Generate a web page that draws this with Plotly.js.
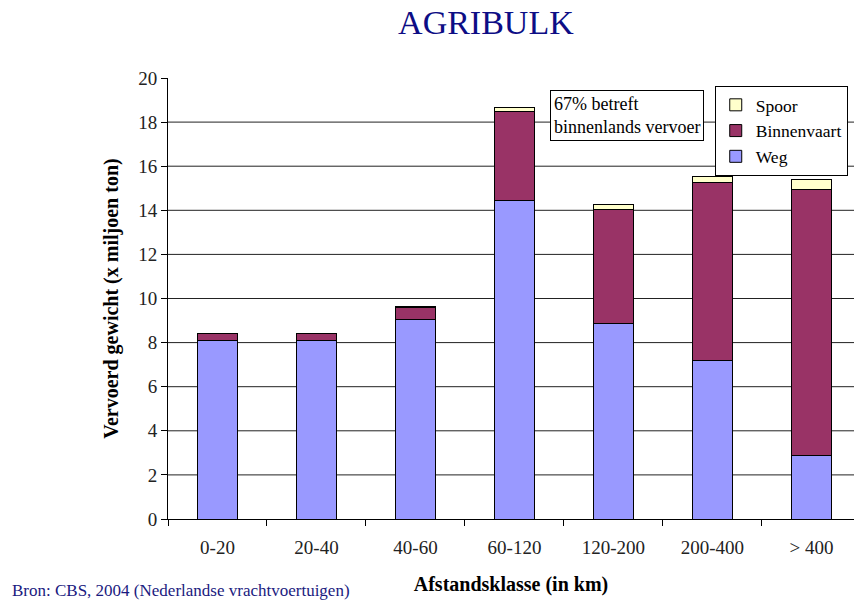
<!DOCTYPE html>
<html>
<head>
<meta charset="utf-8">
<script src="https://cdn.plot.ly/plotly-3.0.1.min.js"></script>
<style>html,body{margin:0;padding:0;background:#fff;}#chart{width:854px;height:601px;}</style>
</head>
<body>
<div id="chart"></div>
<script>
const categories = ["0-20", "20-40", "40-60", "60-120", "120-200", "200-400", "> 400"];
const weg = [8.1, 8.1, 9.05, 14.45, 8.85, 7.2, 2.9];
const binnenvaart = [0.3, 0.3, 0.55, 4.05, 5.2, 8.05, 12.05];
const spoor = [0.02, 0.02, 0.03, 0.15, 0.2, 0.27, 0.45];
const gridValues = [2, 4, 6, 8, 10, 12, 14, 16, 18];

const serif = 'Liberation Serif, Times New Roman, serif';
const line = {color: '#000', width: 1};

const traces = [
  {type: 'bar', name: 'Weg', x: categories, y: weg, width: 0.4, marker: {color: '#9999FF', line: line}},
  {type: 'bar', name: 'Binnenvaart', x: categories, y: binnenvaart, width: 0.4, marker: {color: '#993366', line: line}},
  {type: 'bar', name: 'Spoor', x: categories, y: spoor, width: 0.4, marker: {color: '#FFFFCC', line: line}}
];

const shapes = gridValues.map(v => ({
  type: 'line', xref: 'paper', yref: 'y', x0: 0, x1: 1, y0: v, y1: v,
  line: {color: '#222', width: 1}, layer: 'below'
}));

const layout = {
  width: 854, height: 601,
  margin: {l: 168, r: 0, t: 78, b: 82, autoexpand: false},
  paper_bgcolor: '#fff', plot_bgcolor: '#fff',
  font: {family: serif, color: '#000', size: 17},
  barmode: 'stack',
  showlegend: true,
  title: {text: 'AGRIBULK', font: {family: serif, size: 34, color: '#0d0d85'},
          x: 0.569, xanchor: 'center', xref: 'container', y: 0.963, yanchor: 'middle', yref: 'container'},
  xaxis: {
    type: 'category', range: [-0.5, 6.43],
    showline: true, linecolor: '#000', linewidth: 1,
    ticks: 'outside', tickson: 'boundaries', ticklen: 6, tickcolor: '#000',
    showgrid: false, tickfont: {family: serif, size: 19, color: '#222'},
    ticklabelstandoff: 11,
    title: {text: '<b>Afstandsklasse (in km)</b>', font: {family: serif, size: 20}, standoff: 20}
  },
  yaxis: {
    range: [0, 20], dtick: 2, tick0: 0,
    showline: true, linecolor: '#000', linewidth: 1,
    ticks: 'outside', ticklen: 6, tickcolor: '#000',
    showgrid: false, zeroline: false, tickfont: {family: serif, size: 19, color: '#222'},
    title: {text: '<b>Vervoerd gewicht (x miljoen ton)</b>', font: {family: serif, size: 20}, standoff: 14}
  },
  legend: {
    x: 0.797, y: 0.982, xanchor: 'left', yanchor: 'top', xref: 'paper', yref: 'paper',
    traceorder: 'reversed', bgcolor: '#fff', bordercolor: '#000', borderwidth: 1,
    font: {family: serif, size: 17.5}, itemwidth: 30, tracegroupgap: 0
  },
  shapes: shapes,
  annotations: [
    {text: '67% betreft<br>binnenlands vervoer', xref: 'paper', yref: 'paper', x: 0.557, y: 0.973,
     xanchor: 'left', yanchor: 'top', align: 'left', showarrow: false,
     bgcolor: '#fff', bordercolor: '#000', borderwidth: 1, borderpad: 3,
     font: {family: serif, size: 18, color: '#000'}},
    {text: 'Bron: CBS, 2004 (Nederlandse vrachtvoertuigen)', xref: 'paper', yref: 'paper',
     x: -0.231, y: -0.161, xanchor: 'left', yanchor: 'middle', showarrow: false,
     font: {family: serif, size: 17, color: '#1a1a80'}}
  ]
};

Plotly.newPlot('chart', traces, layout, {displayModeBar: false, staticPlot: true});
</script>
</body>
</html>
